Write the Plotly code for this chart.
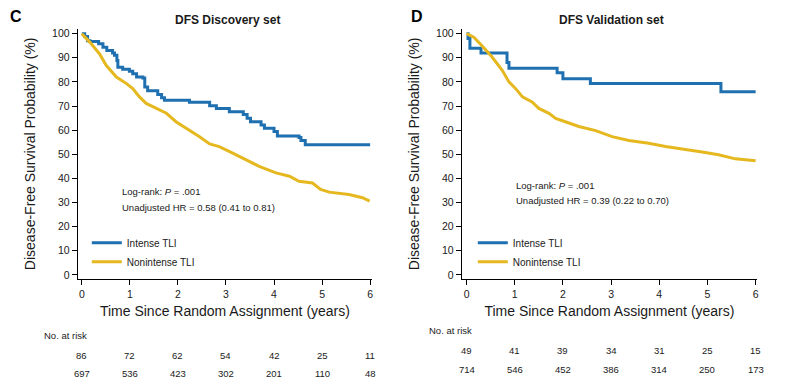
import plotly.graph_objects as go

# ---------------- data ----------------
# Discovery set (panel C)
disc_intense_t = [0, 0.06, 0.12, 0.17, 0.35, 0.44, 0.52, 0.64, 0.68, 0.73, 0.75, 0.85, 0.99, 1.06,
                  1.14, 1.27, 1.31, 1.37, 1.58, 1.66, 1.72, 2.24, 2.66, 2.80, 3.07, 3.36, 3.44,
                  3.51, 3.73, 3.80, 4.00, 4.07, 4.52, 4.56, 4.65, 6.0]
disc_intense_s = [100, 98.8, 97.1, 96.7, 95.8, 94.4, 93.0, 92.0, 91.0, 88.9, 86.1, 85.2, 84.4, 83.4,
                  82.0, 81.6, 77.9, 76.3, 74.8, 73.4, 72.4, 71.6, 70.1, 69.0, 67.6, 66.5, 64.9,
                  63.5, 62.1, 60.8, 59.4, 57.6, 57.0, 55.7, 53.9, 53.9]
disc_non_t = [0, 0.17, 0.37, 0.51, 0.72, 0.93, 1.06, 1.20, 1.34, 1.55, 1.76, 1.96, 2.24, 2.45, 2.66,
              2.86, 3.14, 3.42, 3.69, 4.04, 4.32, 4.52, 4.80, 4.97, 5.15, 5.56, 5.84, 5.99]
disc_non_s = [100, 96.4, 91.6, 86.8, 82.0, 79.3, 77.2, 73.8, 71.1, 69.0, 67.0, 63.5, 60.1, 57.3, 54.3,
              53.2, 50.5, 47.7, 45.0, 42.3, 40.9, 38.8, 38.1, 35.4, 34.3, 33.3, 32.0, 30.6]

# Validation set (panel D)
val_intense_t = [0, 0.03, 0.07, 0.30, 0.84, 0.88, 1.88, 2.00, 2.57, 5.28, 6.0]
val_intense_s = [100, 98.0, 94.0, 92.0, 88.0, 85.7, 83.8, 81.3, 79.3, 75.9, 75.9]
val_non_t = [0, 0.15, 0.32, 0.53, 0.74, 0.88, 1.02, 1.16, 1.36, 1.50, 1.71, 1.85, 2.05, 2.33, 2.68,
             3.02, 3.37, 3.78, 4.13, 4.47, 4.89, 5.23, 5.58, 6.0]
val_non_s = [100, 98.5, 95.0, 90.3, 84.8, 80.0, 77.2, 73.8, 71.7, 69.0, 67.0, 64.9, 63.5, 61.5, 59.8,
             57.3, 55.7, 54.6, 53.2, 52.3, 50.9, 49.8, 48.1, 47.3]

risk_times = [0, 1, 2, 3, 4, 5, 6]
disc_risk_intense = [86, 72, 62, 54, 42, 25, 11]
disc_risk_non = [697, 536, 423, 302, 201, 110, 48]
val_risk_intense = [49, 41, 39, 34, 31, 25, 15]
val_risk_non = [714, 546, 452, 386, 314, 250, 173]

x_ticks = [0, 1, 2, 3, 4, 5, 6]
y_ticks = [0, 10, 20, 30, 40, 50, 60, 70, 80, 90, 100]

series_names = ["Intense TLI", "Nonintense TLI"]
panel_titles = ["DFS Discovery set", "DFS Validation set"]
panel_letters = ["C", "D"]
stats_lines = [["Log-rank: <i>P</i> = .001", "Unadjusted HR = 0.58 (0.41 to 0.81)"],
               ["Log-rank: <i>P</i> = .001", "Unadjusted HR = 0.39 (0.22 to 0.70)"]]

# ---------------- style ----------------
OFF = 8                      # page body margin
W, H = 785 - OFF, 390 - OFF
BLUE = "#1f70b0"
GOLD = "#e5b820"
SANS = "Liberation Sans, Arial, Helvetica, sans-serif"
TXT = "#1a1a1a"


def px(x):
    return (x - OFF) / W


def py(y):
    return 1 - (y - OFF) / H


fig = go.Figure()

for t, s, shape, color, name, xa, ya, lg, grp in [
        (disc_intense_t, disc_intense_s, "hv", BLUE, series_names[0], "x", "y", "legend", "a"),
        (disc_non_t, disc_non_s, "linear", GOLD, series_names[1], "x", "y", "legend", "b"),
        (val_intense_t, val_intense_s, "hv", BLUE, series_names[0], "x2", "y2", "legend2", "c"),
        (val_non_t, val_non_s, "linear", GOLD, series_names[1], "x2", "y2", "legend2", "d")]:
    fig.add_trace(go.Scatter(x=t, y=s, mode="lines", line_shape=shape,
                             line=dict(color=color, width=3), name=name,
                             xaxis=xa, yaxis=ya, legend=lg, legendgroup=grp))

axis_common = dict(showline=True, linecolor="black", linewidth=1.2, ticks="outside",
                   ticklen=5, tickcolor="black", tickwidth=1.2, showgrid=False, zeroline=False,
                   tickfont=dict(family=SANS, size=10.5, color=TXT))
xtitle = dict(text="Time Since Random Assignment (years)",
              font=dict(family=SANS, size=14, color=TXT), standoff=7)
ytitle = dict(text="Disease-Free Survival Probability (%)",
              font=dict(family=SANS, size=14, color=TXT), standoff=13)

ydom = [py(280), py(28)]
legend_common = dict(xanchor="left", yanchor="top", bgcolor="rgba(0,0,0,0)",
                     font=dict(family=SANS, size=10, color=TXT), tracegroupgap=0,
                     itemwidth=30)
fig.update_layout(
    width=W, height=H, margin=dict(l=0, r=0, t=0, b=0),
    paper_bgcolor="white", plot_bgcolor="white",
    xaxis=dict(domain=[px(78), px(373)], range=[-0.083, 6.04], tickvals=x_ticks, anchor="y",
               title=xtitle, **axis_common),
    yaxis=dict(domain=ydom, range=[-1.65, 102], tickvals=y_ticks, anchor="x",
               title=ytitle, **axis_common),
    xaxis2=dict(domain=[px(463), px(759)], range=[-0.098, 6.03], tickvals=x_ticks, anchor="y2",
                title=xtitle, **axis_common),
    yaxis2=dict(domain=ydom, range=[-1.65, 102], tickvals=y_ticks, anchor="x2",
                title=ytitle, **axis_common),
    legend=dict(x=px(87), y=py(229), **legend_common),
    legend2=dict(x=px(474), y=py(229), **legend_common),
)

ann = []
# panel letters and titles
for letter, lx in zip(panel_letters, [8, 410]):
    ann.append(dict(text="<b>" + letter + "</b>", x=px(lx), y=py(16), xref="paper", yref="paper",
                    xanchor="left", yanchor="middle", showarrow=False,
                    font=dict(family=SANS, size=16, color="black")))
for title, cx in zip(panel_titles, [228, 613]):
    ann.append(dict(text="<b>" + title + "</b>", x=px(cx), y=py(19), xref="paper", yref="paper",
                    xanchor="center", yanchor="middle", showarrow=False,
                    font=dict(family=SANS, size=12, color=TXT)))
# stats text
for lines, sx, sy in zip(stats_lines, [120, 515], [(192, 208), (186, 201)]):
    for line, yy in zip(lines, sy):
        ann.append(dict(text=line, x=px(sx), y=py(yy), xref="paper", yref="paper",
                        xanchor="left", yanchor="middle", showarrow=False,
                        font=dict(family=SANS, size=9.5, color=TXT)))
# numbers at risk
for xref, nx, hy, r1, r2, rows in [("x", 42, 337, 357, 375, (disc_risk_intense, disc_risk_non)),
                                    ("x2", 428, 332, 352, 371, (val_risk_intense, val_risk_non))]:
    ann.append(dict(text="No. at risk", x=px(nx), y=py(hy), xref="paper", yref="paper",
                    xanchor="left", yanchor="middle", showarrow=False,
                    font=dict(family=SANS, size=9.5, color=TXT)))
    for vals, ry in zip(rows, (r1, r2)):
        for t, v in zip(risk_times, vals):
            ann.append(dict(text=str(v), x=t, y=py(ry), xref=xref, yref="paper",
                            xanchor="center", yanchor="middle", showarrow=False,
                            font=dict(family=SANS, size=9.5, color=TXT)))
fig.update_layout(annotations=ann)

# right border line of the figure panel
fig.add_shape(type="line", xref="paper", yref="paper", x0=px(783), x1=px(783), y0=0, y1=1,
              line=dict(color="black", width=1))

fig.write_html("out.html")
